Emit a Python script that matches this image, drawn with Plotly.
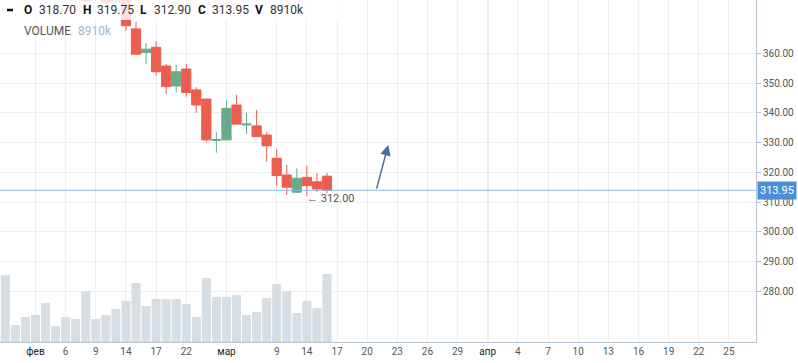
import plotly.graph_objects as go

# ---------------- data ----------------
dates = ["2017-01-27", "2017-01-30", "2017-01-31", "2017-02-01", "2017-02-02", "2017-02-03",
         "2017-02-06", "2017-02-07", "2017-02-08", "2017-02-09", "2017-02-10", "2017-02-13",
         "2017-02-14", "2017-02-15", "2017-02-16", "2017-02-17", "2017-02-20", "2017-02-21",
         "2017-02-22", "2017-02-24", "2017-02-27", "2017-02-28", "2017-03-01", "2017-03-02",
         "2017-03-03", "2017-03-06", "2017-03-07", "2017-03-09", "2017-03-10", "2017-03-13",
         "2017-03-14", "2017-03-15", "2017-03-16"]

open_ = [None, None, None, None, None, None, None, None, 383.0, None, 382.0, 377.2,
         379.5, 368.2, 360.3, 362.0, 355.7, 349.0, 354.7, 347.7, 344.6, 330.7, 330.9, 342.6,
         335.9, 335.6, 332.5, 324.7, 319.1, 313.3, 318.3, 316.8, 318.70]
high = [None, None, None, None, None, None, None, None, 386.0, None, 384.0, 383.0,
        380.5, 370.6, 363.4, 364.1, 356.4, 356.1, 356.4, 348.6, 344.8, 333.4, 344.1, 346.0,
        340.0, 340.9, 333.6, 327.8, 322.5, 321.3, 322.2, 319.7, 319.75]
low = [None, None, None, None, None, None, None, None, 377.4, None, 376.6, 376.8,
       367.6, 359.5, 356.3, 352.5, 346.3, 346.8, 345.4, 340.0, 330.3, 326.6, 330.8, 336.1,
       332.9, 331.9, 323.6, 315.5, 312.4, 313.2, 312.0, 313.3, 312.90]
close = [None, None, None, None, None, None, None, None, 377.6, None, 377.0, 381.0,
         369.3, 359.7, 361.4, 353.8, 348.8, 353.8, 346.8, 342.6, 330.9, 331.0, 341.5, 336.2,
         336.2, 332.0, 328.9, 318.9, 315.0, 318.0, 315.5, 314.4, 313.95]
volume_k = [8780, 2230, 3280, 3540, 5110, 2100, 3280, 3010, 6680, 3010, 3540, 4320,
            5370, 7730, 4720, 5630, 5630, 5630, 4980, 3280, 8390, 5900, 5900, 6160,
            3540, 3930, 5760, 7600, 6680, 3800, 5370, 4450, 8910]

tick_labels = ["фев", "6", "9", "14", "17", "22", "мар", "9", "14", "17", "20", "23",
               "26", "29", "апр", "4", "7", "10", "13", "16", "19", "22", "25"]
tick_index = [3, 6, 9, 12, 15, 18, 22, 27, 30, 33, 36, 39, 42, 45, 48, 51, 54, 57, 60, 63, 66, 69, 72]
month_labels = {"фев", "мар", "апр"}
price_ticks = [280, 290, 300, 310, 320, 330, 340, 350, 360]
min_marker_date = "2017-03-14"
min_marker_value = 312.00
arrow_from = (36.9, 314.0)
arrow_to = (38.1, 329.2)

# ---------------- figure ----------------
W, H = 798, 363
ML, MR, MT, MB = 0, 42, 0, 21
PW, PH = W - ML - MR, H - MT - MB

xi = list(range(len(dates)))
cx = [i for i in xi if open_[i] is not None]

UP = "#6aaa8c"
DOWN = "#eb5e4e"
BORDER = "#b4c4d2"

fig = go.Figure()
fig.add_trace(go.Bar(
    x=xi, y=volume_k, yaxis="y2", width=0.9,
    marker=dict(color="#d6dde3", line=dict(width=0)),
    hoverinfo="skip", showlegend=False))
fig.add_trace(go.Candlestick(
    x=cx,
    open=[open_[i] for i in cx], high=[high[i] for i in cx],
    low=[low[i] for i in cx], close=[close[i] for i in cx],
    increasing=dict(line=dict(color=UP, width=1), fillcolor=UP),
    decreasing=dict(line=dict(color=DOWN, width=1), fillcolor=DOWN),
    whiskerwidth=0, hoverinfo="skip", showlegend=False, yaxis="y"))

ticktext = [("<span style='color:#222'>%s</span>" % t) if t in month_labels else t
            for t in tick_labels]

last = len(dates) - 1
shapes = []
# month separators
for t, ix in zip(tick_labels, tick_index):
    if t in month_labels:
        shapes.append(dict(type="line", xref="x", yref="paper", x0=ix, x1=ix, y0=0, y1=1,
                           line=dict(color="#b8b8b8", width=1), layer="below"))
# last price line
shapes.append(dict(type="line", xref="paper", yref="y", x0=0, x1=1,
                   y0=close[last], y1=close[last],
                   line=dict(color="#8fb7e3", width=1), layer="above"))
# legend background
shapes.append(dict(type="rect", xref="paper", yref="paper", x0=0, x1=343 / PW,
                   y0=1 - 20 / PH, y1=1, fillcolor="rgba(255,255,255,0.82)",
                   line=dict(width=0), layer="above"))
# legend dash
shapes.append(dict(type="line", xref="paper", yref="paper", x0=7 / PW, x1=13 / PW,
                   y0=1 - 10 / PH, y1=1 - 10 / PH,
                   line=dict(color="#111", width=2.5), layer="above"))

FONT = "Roboto"
ann = []
def px_text(xp, yp, text, color="#333", size=12, bold=False):
    ann.append(dict(xref="paper", yref="paper", x=xp / PW, y=1 - yp / PH,
                    xanchor="left", yanchor="middle", showarrow=False,
                    text=("<b>%s</b>" % text) if bold else text,
                    font=dict(family=FONT, size=size, color=color)))

px_text(22, 10.5, "O", "#111", bold=True)
px_text(37, 10.5, "%.2f" % open_[last])
px_text(81, 10.5, "H", "#111", bold=True)
px_text(95, 10.5, "%.2f" % high[last])
px_text(138, 10.5, "L", "#111", bold=True)
px_text(152, 10.5, "%.2f" % low[last])
px_text(196, 10.5, "C", "#111", bold=True)
px_text(210, 10.5, "%.2f" % close[last])
px_text(253, 10.5, "V", "#111", bold=True)
px_text(268, 10.5, "%dk" % volume_k[last])
px_text(22, 31, "VOLUME", "#555")
px_text(76, 31, "%dk" % volume_k[last], "#a3b5c8")

# min marker
ann.append(dict(x=dates.index(min_marker_date), y=min_marker_value, xref="x", yref="y",
                xanchor="left", yanchor="middle", xshift=-2, yshift=-2, showarrow=False,
                text="← %.2f" % min_marker_value,
                font=dict(family=FONT, size=11, color="#555")))
# last price label
ann.append(dict(x=1, y=close[last], xref="paper", yref="y", xanchor="left",
                yanchor="middle", xshift=1, showarrow=False,
                text="%.2f" % close[last], bgcolor="#4a8fd8", borderpad=2,
                font=dict(family=FONT, size=11, color="white")))
# drawn arrow
ann.append(dict(x=arrow_to[0], y=arrow_to[1], ax=arrow_from[0], ay=arrow_from[1],
                xref="x", yref="y", axref="x", ayref="y", showarrow=True, text="",
                arrowhead=2, arrowsize=1.4, arrowwidth=1.5, arrowcolor="#4a6e9e"))

# pixel -> data mapping for axes ranges
bar_px = 10.05
x0_px = 35.5  # pixel of index 3
xr = [3 - x0_px / bar_px, 3 + (PW - x0_px) / bar_px]
ppu = 2.975
y320 = 172.3
yr = [320 - (PH - y320) / ppu, 320 + y320 / ppu]
vol_max = volume_k[last] * PH / 68.0

fig.update_layout(
    width=W, height=H, margin=dict(l=ML, r=MR, t=MT, b=MB),
    paper_bgcolor="white", plot_bgcolor="white",
    showlegend=False, hovermode=False, dragmode=False,
    boxgap=0.08, boxgroupgap=0,
    font=dict(family=FONT),
    xaxis=dict(range=xr, tickmode="array", tickvals=tick_index, ticktext=ticktext,
               showgrid=True, gridcolor="#eeeeee", gridwidth=1, zeroline=False,
               showline=True, linecolor=BORDER, linewidth=1, mirror=True,
               ticks="", tickfont=dict(size=10, color="#555"),
               rangeslider=dict(visible=False), fixedrange=True),
    yaxis=dict(range=yr, side="right", tickmode="array", tickvals=price_ticks,
               tickformat=".2f", showgrid=True, gridcolor="#eeeeee", zeroline=False,
               showline=True, linecolor=BORDER, linewidth=1, mirror=True,
               ticks="outside", ticklen=4, tickcolor=BORDER,
               tickfont=dict(size=10, color="#555"), fixedrange=True),
    yaxis2=dict(range=[0, vol_max], overlaying="y", visible=False, fixedrange=True),
    shapes=shapes, annotations=ann,
)

fig.write_html("out.html", config=dict(displayModeBar=False, staticPlot=True),
               post_script="document.body.style.margin='0';document.body.style.padding='0';")
